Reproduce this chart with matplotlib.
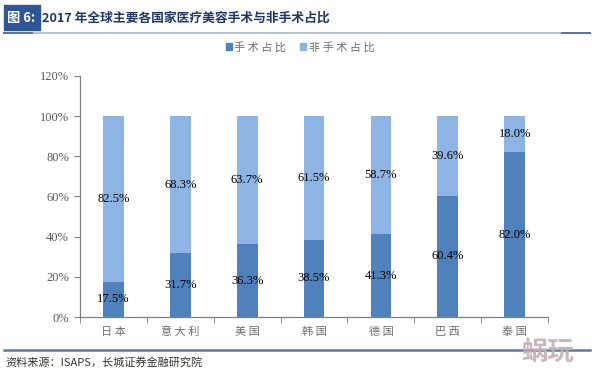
import matplotlib
matplotlib.use("Agg")
import matplotlib.pyplot as plt
from matplotlib.patches import Rectangle
from matplotlib.lines import Line2D
import numpy as np

# data
countries = ["日本", "意大利", "美国", "韩国", "德国", "巴西", "泰国"]
surgical = [17.5, 31.7, 36.3, 38.5, 41.3, 60.4, 82.0]
non_surgical = [82.5, 68.3, 63.7, 61.5, 58.7, 39.6, 18.0]
yticks = [0, 20, 40, 60, 80, 100, 120]
series_names = ["手术占比", "非手术占比"]

DARK = "#4F81BD"
LIGHT = "#8DB4E2"
CJK = ["Noto Sans CJK SC", "DejaVu Sans"]
SERIF = ["Liberation Serif", "DejaVu Serif"]


def spaced(s):
    # the source chart uses wide letter spacing on CJK labels
    return " ".join(s)


fig = plt.figure(figsize=(5.94, 3.74), dpi=100)
ax = fig.add_axes([0.1347, 0.1524, 0.788, 0.6444])

x = np.arange(len(countries))
w = 0.31
ax.bar(x, surgical, width=w, color=DARK, zorder=2)
ax.bar(x, non_surgical, width=w, bottom=surgical, color=LIGHT, zorder=2)

for xi, s, n in zip(x, surgical, non_surgical):
    ax.text(xi, s / 2, f"{s:.1f}%", ha="center", va="center",
            fontsize=9, family=SERIF, color="black")
    ax.text(xi, s + n / 2, f"{n:.1f}%", ha="center", va="center",
            fontsize=9, family=SERIF, color="black")

ax.set_xlim(-0.5, len(countries) - 0.5)
ax.set_ylim(0, 120)
ax.set_yticks(yticks)
ax.set_yticklabels([f"{v}%" for v in yticks], family=SERIF, fontsize=9,
                   color="#595959")
ax.set_xticks(x)
ax.set_xticklabels([spaced(c) for c in countries], family=CJK, fontsize=8,
                   color="#6E6E6E")
ax.set_xticks(np.arange(-0.5, len(countries)), minor=True)
ax.tick_params(axis="x", which="major", length=0, pad=7)
ax.tick_params(axis="x", which="minor", length=4, color="#808080", direction="out")
ax.tick_params(axis="y", length=4, color="#808080", direction="out", pad=4)

for side in ["top", "right"]:
    ax.spines[side].set_visible(False)
for side in ["left", "bottom"]:
    ax.spines[side].set_color("#808080")
    ax.spines[side].set_linewidth(0.9)

# legend
handles = [Rectangle((0, 0), 1, 1, color=DARK), Rectangle((0, 0), 1, 1, color=LIGHT)]
leg = fig.legend(handles, [spaced(s) for s in series_names], loc="center",
                 bbox_to_anchor=(0.505, 0.874), ncol=2, frameon=False,
                 prop={"family": CJK, "size": 8},
                 handlelength=0.6, handleheight=0.6, handletextpad=0.2,
                 columnspacing=1.2)
for t in leg.get_texts():
    t.set_color("#6E6E6E")

# header
fig.patches.append(Rectangle((4 / 594, 1 - 30 / 374), 36 / 594, 25 / 374,
                             transform=fig.transFigure, color="#2E5597", zorder=1))
fig.text(7 / 594, 1 - 18 / 374, "图 6:", family=CJK, fontsize=9.5, fontweight="bold",
         color="white", va="center", ha="left")
fig.text(42 / 594, 1 - 18 / 374, "2017 年全球主要各国家医疗美容手术与非手术占比",
         family=CJK, fontsize=9.2, fontweight="bold", color="#1F3864",
         va="center", ha="left")
fig.add_artist(Line2D([4 / 594, 590 / 594], [1 - 33 / 374] * 2,
                      transform=fig.transFigure, color="#A9B6C8", lw=1.2))
fig.add_artist(Line2D([4 / 594, 32 / 594], [1 - 33 / 374] * 2,
                      transform=fig.transFigure, color="#5A7498", lw=1.4))
fig.add_artist(Line2D([562 / 594, 590 / 594], [1 - 33 / 374] * 2,
                      transform=fig.transFigure, color="#5A7498", lw=1.4))

# footer
fig.add_artist(Line2D([4 / 594, 590 / 594], [1 - 350 / 374] * 2,
                      transform=fig.transFigure, color="#5B7BA3", lw=1.8))
fig.text(5 / 594, 1 - 362 / 374, "资料来源：ISAPS，长城证券金融研究院",
         family=CJK, fontsize=8, style="italic", color="#333333",
         va="center", ha="left")
fig.text(548 / 594, 1 - 352 / 374, "蜗玩", family=CJK, fontsize=19,
         fontweight="bold", color="#C4AEB6", va="center", ha="center", alpha=0.9)

fig.savefig("out.png", dpi=100)
